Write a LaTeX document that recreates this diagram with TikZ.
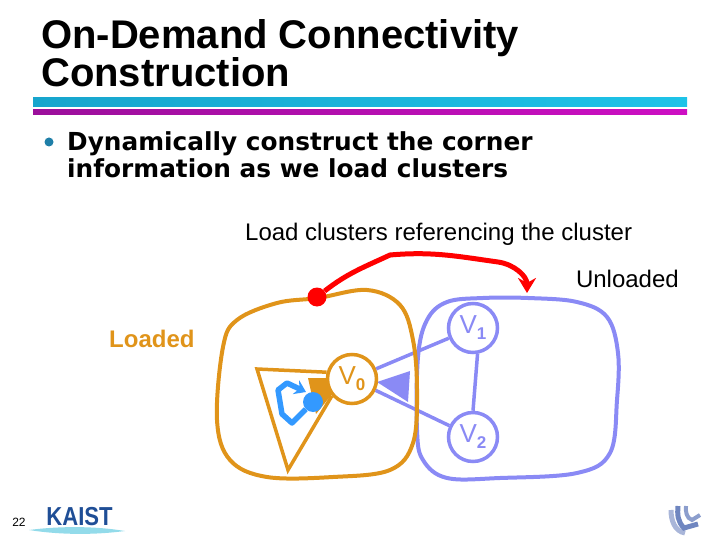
\documentclass[tikz,border=0pt]{standalone}
\usepackage{fontspec}
\setmainfont{Liberation Sans}
\newfontfamily\bodyfont{DejaVu Sans}
\usetikzlibrary{arrows,shapes,arrows.meta}
\definecolor{loadedcol}{HTML}{E0941A}
\definecolor{unloadedcol}{HTML}{8A8AF5}
\definecolor{pointcol}{HTML}{3399FF}
\definecolor{kaistcol}{HTML}{1F4E96}
\definecolor{bulletcol}{HTML}{1F7FA8}
\definecolor{logocol}{HTML}{6F86C0}
\newcommand{\vlabel}[1]{V\raisebox{-6pt}{\fontsize{17}{17}\selectfont\bfseries #1}}

\begin{document}
\begin{tikzpicture}[x=1pt,y=-1pt]
    \tikzstyle{vertex}=[circle,draw,line width=3.5pt,fill=white,minimum size=49pt,inner sep=0pt,font=\fontsize{26}{26}\selectfont]
    \tikzstyle{bluevertex}=[vertex,draw=unloadedcol,text=unloadedcol]
    \tikzstyle{orangevertex}=[vertex,draw=loadedcol,text=loadedcol]
    \tikzstyle{blob}=[line width=4pt,line join=round]
    \tikzstyle{label}=[inner sep=0pt,font=\fontsize{24}{24}\selectfont]
    \tikzstyle{redarrow}=[draw=red,line width=5pt,-{Stealth[length=15pt,width=18pt]}]

    \useasboundingbox (0,0) rectangle (720,540);

    % title and bars
    \node[anchor=north west,align=left,inner sep=0pt,font=\fontsize{40}{35}\selectfont\bfseries] (title) at (41,19) {On-Demand Connectivity\\Construction};
    \shade[left color={rgb,255:red,23;green,165;blue,205},right color={rgb,255:red,30;green,195;blue,232}] (33,98) rectangle (687,107);
    \shade[left color={rgb,255:red,155;green,15;blue,155},right color={rgb,255:red,205;green,15;blue,195}] (33,110) rectangle (687,115);

    % bullet
    \node[circle,fill=bulletcol,minimum size=9pt,inner sep=0pt] (bullet) at (49,142) {};
    \node[anchor=north west,align=left,inner sep=0pt,font=\bodyfont\fontsize{24.8}{27}\selectfont\bfseries] (text) at (67,131) {Dynamically construct the corner\\information as we load clusters};

    \node[label,anchor=west] (refs) at (245,234) {Load clusters referencing the cluster};
    \node[label,anchor=east] (unloaded) at (679,279) {Unloaded};
    \node[label,anchor=west,text=loadedcol,font=\fontsize{24}{24}\selectfont\bfseries] (loaded) at (109,339) {Loaded};

    % unloaded cluster
    \draw[blob,unloadedcol] plot[smooth cycle,tension=0.6] coordinates {(528,298) (577,302) (607,317) (618,353) (617,400) (610,453) (577,473) (500,478) (447,478) (423,460) (417,430) (418,357) (427,320) (447,302) (483,298)};

    \coordinate (fanA) at (410,371);
    \coordinate (fanB) at (408,402);
    \coordinate (triA) at (257,369);
    \coordinate (triB) at (288,470);

    \fill[unloadedcol] (377,382) -- (fanA) -- (fanB) -- cycle;
    \fill[loadedcol] (308,378) -- (332,378) -- (333,393) -- (316,414) -- cycle;

    % vertices
    \node[orangevertex] (V0) at (352,379) {\vlabel{0}};
    \node[bluevertex] (V1) at (473,328) {\vlabel{1}};
    \node[bluevertex] (V2) at (473,437) {\vlabel{2}};

    \draw[line width=3.5pt,unloadedcol] (V0) -- (V1);
    \draw[line width=3.5pt,unloadedcol] (V0) -- (V2);
    \draw[line width=3.5pt,unloadedcol] (V1.280) -- (V2.90);

    % loaded cluster
    \draw[blob,loadedcol] plot[smooth cycle,tension=0.6] coordinates {(318,298) (367,290) (400,305) (413,340) (417,390) (413,443) (390,470) (333,477) (267,477) (230,460) (217,420) (223,347) (237,320) (277,303)};

    % triangle at V0
    \draw[line width=3.5pt,loadedcol,line join=miter] (V0.165) -- (triA) -- (triB) -- (V0.220);

    % local walk
    \node[circle,fill=pointcol,minimum size=20pt,inner sep=0pt] (P) at (313,402) {};
    \coordinate (walk) at (306,392);
    \draw[line width=5.5pt,pointcol,line join=round,-{Stealth[length=11pt,width=15pt]}] (P) -- (292,423) -- (282,414) -- (278,390) -- (287,383) -- (walk);

    % reference to the unloaded cluster
    \node[circle,fill=red,minimum size=19pt,inner sep=0pt] (R) at (317,297) {};
    \coordinate (Rend) at (527,293);
    \draw[redarrow] (R) to[out=38,in=205] (390,255) to[out=5,in=172] (498,262) to[out=-8,in=90] (Rend);

    % footer
    \node[inner sep=0pt,font=\fontsize{12}{12}\selectfont] (page) at (19,522) {22};
    \fill[kaistcol!45!cyan!45!white] (29,530) .. controls (60,526) and (95,526) .. (125,531) .. controls (95,535) and (60,535) .. (29,530);
    \node[inner sep=0pt,text=kaistcol,xscale=.85,font=\fontsize{26}{26}\selectfont\bfseries] (kaist) at (79.5,517) {KAIST};

    % right logo
    \draw[line width=5pt,logocol!60] (671,510) to[out=270,in=170] (685,533);
    \draw[line width=5pt,logocol] (678,506) to[out=265,in=135] (684,528) -- (698,524);
    \draw[line width=4pt,logocol!80] (686,506) to[out=265,in=160] (692,520) -- (700,515);
\end{tikzpicture}
\end{document}
